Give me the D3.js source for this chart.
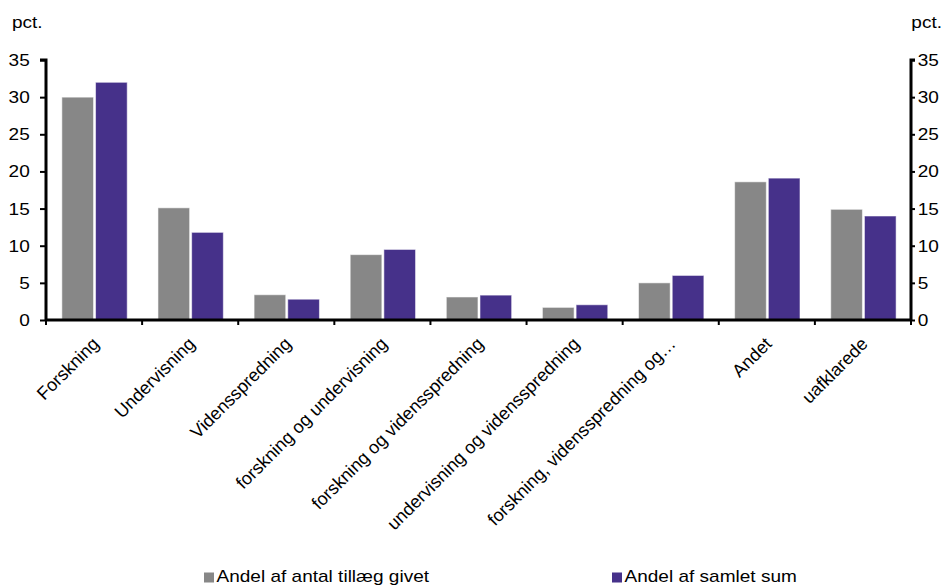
<!DOCTYPE html>
<html>
<head>
<meta charset="utf-8">
<script src="https://cdn.jsdelivr.net/npm/d3@7"></script>
<style>
  body { margin: 0; background: #fff; }
  svg { display: block; font-family: "Liberation Sans", Arial, sans-serif; }
</style>
</head>
<body>
<svg id="chart" width="948" height="585"></svg>
<script>
// Categories along the x axis
const categories = [
  "Forskning",
  "Undervisning",
  "Vidensspredning",
  "forskning og undervisning",
  "forskning og vidensspredning",
  "undervisning og vidensspredning",
  "forskning, vidensspredning og…",
  "Andet",
  "uafklarede"
];

// Series names and values (pct.)
const seriesNames = ["Andel af antal tillæg givet", "Andel af samlet sum"];
const andelAntal = [30.0, 15.1, 3.4, 8.8, 3.1, 1.7, 5.0, 18.6, 14.9];
const andelSum   = [32.0, 11.8, 2.8, 9.5, 3.35, 2.05, 6.0, 19.1, 14.0];
const seriesColors = ["#878787", "#46318a"];

// Axis ticks
const yTicks = [0, 5, 10, 15, 20, 25, 30, 35];
const unitLabel = "pct.";

const svg = d3.select("#chart");
const plotLeft = 46, plotRight = 911, plotTop = 60, plotBottom = 320;
const wide = "scale(1.12,1)"; // slightly widened lettering

const y = d3.scaleLinear().domain([0, 35]).range([plotBottom, plotTop]);
const x0 = d3.scaleBand().domain(categories).range([plotLeft, plotRight]).padding(0);
const x1 = d3.scaleBand().domain(seriesNames)
  .range([x0.bandwidth() * 0.165, x0.bandwidth() * 0.845]).paddingInner(0.06);

const seriesValues = [andelAntal, andelSum];

// Bars
const groups = svg.append("g").selectAll("g")
  .data(categories)
  .join("g")
  .attr("transform", d => `translate(${x0(d)},0)`);

groups.selectAll("rect")
  .data((c, i) => seriesNames.map((s, k) => ({ s, v: seriesValues[k][i], k })))
  .join("rect")
  .attr("x", d => x1(d.s))
  .attr("width", x1.bandwidth())
  .attr("y", d => y(d.v))
  .attr("height", d => y(0) - y(d.v))
  .attr("fill", d => seriesColors[d.k])
  .attr("stroke", "#ffffff")
  .attr("stroke-opacity", 0.55)
  .attr("stroke-width", 1);

// Left axis
const yLeft = svg.append("g")
  .attr("transform", `translate(${plotLeft},0)`)
  .call(d3.axisLeft(y).tickValues(yTicks).tickSize(6).tickPadding(8.5));
// Right axis
const yRight = svg.append("g")
  .attr("transform", `translate(${plotRight},0)`)
  .call(d3.axisRight(y).tickValues(yTicks).tickSize(4).tickPadding(2));

[yLeft, yRight].forEach(g => {
  g.select(".domain").attr("stroke", "#000").attr("stroke-width", 3);
  g.selectAll(".tick line").attr("stroke", "#000").attr("stroke-width", 2);
  g.selectAll(".tick text").attr("fill", "#000").style("font-size", "17px")
    .style("font-family", "Liberation Sans, Arial, sans-serif")
    .attr("transform", wide);
});
yLeft.select(".domain").attr("d", `M-6,${plotTop}H0V${plotBottom}`);
yRight.select(".domain").attr("d", `M4,${plotTop}H0V${plotBottom}`);

// X axis baseline with ticks at category boundaries
const xAxis = svg.append("g").attr("transform", `translate(0,${plotBottom})`);
xAxis.append("line")
  .attr("x1", plotLeft).attr("x2", plotRight)
  .attr("stroke", "#000").attr("stroke-width", 3);
const boundaries = categories.map(c => x0(c)).concat([plotRight]);
xAxis.selectAll("line.tk")
  .data(boundaries)
  .join("line")
  .attr("class", "tk")
  .attr("x1", d => d).attr("x2", d => d)
  .attr("y1", 0).attr("y2", 5)
  .attr("stroke", "#000").attr("stroke-width", 2);

// Rotated category labels
xAxis.selectAll("text.cat")
  .data(categories)
  .join("text")
  .attr("class", "cat")
  .attr("text-anchor", "end")
  .attr("transform", d => `translate(${x0(d) + x0.bandwidth() / 2 + 6},${25}) rotate(-45)`)
  .style("font-size", "18px")
  .attr("fill", "#000")
  .text(d => d);

// Unit labels
svg.append("text").attr("transform", `translate(12,28) ${wide}`)
  .style("font-size", "17px").text(unitLabel);
svg.append("text").attr("transform", `translate(942,28) ${wide}`).attr("text-anchor", "end")
  .style("font-size", "17px").text(unitLabel);

// Legend
const legendX = [204, 612];
const legend = svg.append("g").selectAll("g")
  .data(seriesNames)
  .join("g")
  .attr("transform", (d, i) => `translate(${legendX[i]},572.5)`);
legend.append("rect").attr("width", 10).attr("height", 10)
  .attr("fill", (d, i) => seriesColors[i]);
legend.append("text").attr("transform", `translate(12.5,9.5) ${wide}`)
  .style("font-size", "17px").text(d => d);
</script>
</body>
</html>
